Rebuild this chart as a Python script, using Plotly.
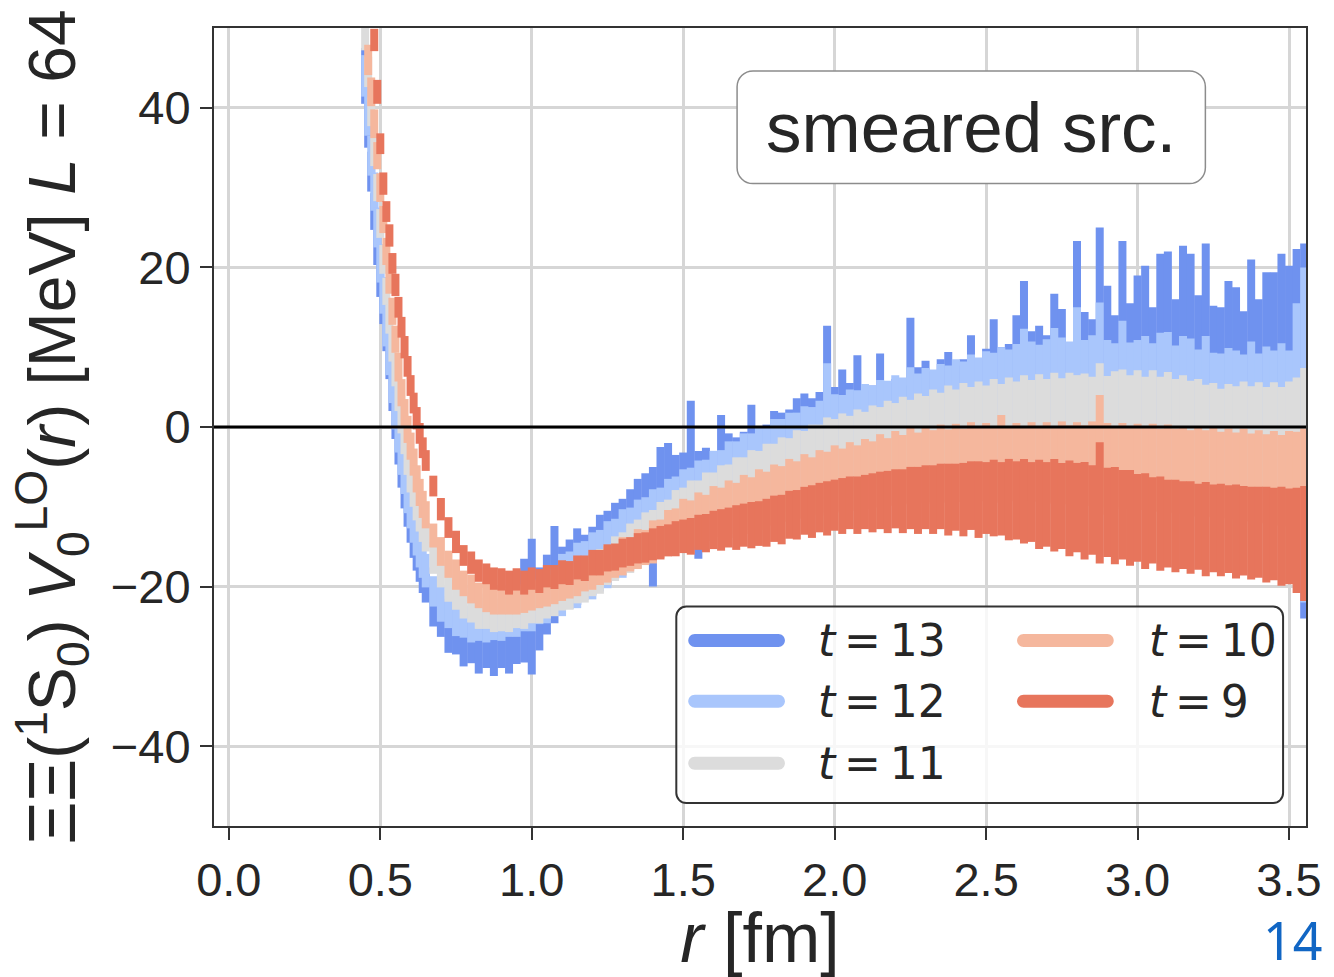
import plotly.graph_objects as go

# ---------------------------------------------------------------- data
# separation r [fm]: fine steps near the repulsive core, then 0.025 fm
R_CORE = [0.45, 0.46, 0.47, 0.48, 0.49, 0.50, 0.51, 0.52, 0.53, 0.54,
          0.55, 0.56, 0.57, 0.58, 0.59, 0.60, 0.61, 0.62, 0.63, 0.64]
R_TAIL = [0.650, 0.675, 0.700, 0.725, 0.750, 0.775, 0.800, 0.825, 0.850, 0.875,
          0.900, 0.925, 0.950, 0.975, 1.000, 1.025, 1.050, 1.075, 1.100, 1.125,
          1.150, 1.175, 1.200, 1.225, 1.250, 1.275, 1.300, 1.325, 1.350, 1.375,
          1.400, 1.425, 1.450, 1.475, 1.500, 1.525, 1.550, 1.575, 1.600, 1.625,
          1.650, 1.675, 1.700, 1.725, 1.750, 1.775, 1.800, 1.825, 1.850, 1.875,
          1.900, 1.925, 1.950, 1.975, 2.000, 2.025, 2.050, 2.075, 2.100, 2.125,
          2.150, 2.175, 2.200, 2.225, 2.250, 2.275, 2.300, 2.325, 2.350, 2.375,
          2.400, 2.425, 2.450, 2.475, 2.500, 2.525, 2.550, 2.575, 2.600, 2.625,
          2.650, 2.675, 2.700, 2.725, 2.750, 2.775, 2.800, 2.825, 2.850, 2.875,
          2.900, 2.925, 2.950, 2.975, 3.000, 3.025, 3.050, 3.075, 3.100, 3.125,
          3.150, 3.175, 3.200, 3.225, 3.250, 3.275, 3.300, 3.325, 3.350, 3.375,
          3.400, 3.425, 3.450, 3.475, 3.500, 3.525, 3.550]
R = R_CORE + R_TAIL

# potential V(r) [MeV] and its statistical error, one pair per sink time t
V_T9 = [70.0, 62.0, 55.0, 48.5, 42.0, 35.5, 30.5, 27.0, 24.0, 20.5,
        17.8, 15.0, 12.5, 10.0, 7.6, 5.2, 3.0, 1.1, -0.8, -2.6,
        -4.2, -7.4, -10.3, -12.6, -14.4, -16.1, -17.0, -18.0, -18.4, -19.0,
        -19.1, -19.5, -19.1, -19.5, -19.0, -19.3, -18.7, -18.8, -18.2, -18.3,
        -17.6, -17.7, -17.0, -17.0, -16.4, -16.3, -15.8, -15.6, -15.2, -15.1,
        -14.7, -14.5, -14.2, -14.0, -13.7, -13.7, -13.2, -13.3, -12.9, -12.9,
        -12.6, -12.6, -12.3, -12.3, -12.1, -12.0, -11.5, -11.6, -11.0, -11.0,
        -10.5, -10.6, -10.1, -10.2, -9.8, -9.9, -9.5, -9.8, -9.4, -9.5,
        -9.2, -9.4, -9.0, -9.3, -8.9, -9.2, -8.8, -9.1, -8.7, -9.1,
        -8.8, -9.1, -8.6, -9.1, -8.9, -8.9, -9.0, -9.1, -9.2, -9.3,
        -9.4, -9.7, -9.7, -9.8, -9.9, -10.2, -10.1, -10.5, -10.4, -9.5,
        -10.7, -11.1, -11.0, -11.4, -11.4, -11.8, -11.7, -12.1, -12.1, -12.4,
        -12.3, -12.6, -12.5, -12.8, -12.7, -12.9, -12.8, -13.1, -13.0, -13.3,
        -13.2, -13.5, -13.4, -13.7, -13.7, -14.2, -14.6]
E_T9 = [1.5, 1.5, 1.4, 1.4, 1.5, 1.3, 1.4, 1.3, 1.4, 1.3,
        1.4, 1.3, 1.3, 1.4, 1.3, 1.3, 1.3, 1.4, 1.3, 1.3,
        1.3, 1.3, 1.4, 1.3, 1.4, 1.3, 1.4, 1.4, 1.3, 1.4,
        1.4, 1.5, 1.4, 1.5, 1.4, 1.5, 1.4, 1.5, 1.5, 1.5,
        1.5, 1.6, 1.6, 1.6, 1.7, 1.7, 1.8, 1.8, 1.9, 1.9,
        2.0, 2.1, 2.0, 2.2, 2.1, 2.3, 2.2, 2.4, 2.4, 2.6,
        2.5, 2.8, 2.7, 2.9, 2.8, 3.0, 2.9, 3.1, 3.0, 3.1,
        3.0, 3.3, 3.1, 3.4, 3.2, 3.5, 3.3, 3.6, 3.4, 3.7,
        3.6, 3.9, 3.7, 4.0, 3.9, 4.2, 4.0, 4.3, 4.1, 4.5,
        4.2, 4.6, 4.3, 4.8, 4.5, 4.8, 4.6, 5.1, 4.9, 5.3,
        5.0, 5.6, 5.3, 5.8, 5.4, 6.0, 5.6, 6.1, 5.6, 7.6,
        5.6, 6.1, 5.6, 6.0, 5.5, 6.0, 5.4, 5.9, 5.5, 5.8,
        5.5, 5.8, 5.4, 5.9, 5.5, 5.8, 5.5, 5.9, 5.6, 5.8,
        5.7, 6.0, 5.8, 6.2, 6.0, 6.6, 7.2]

V_T10 = [52.0, 46.0, 42.0, 38.0, 34.0, 30.0, 26.0, 22.0, 18.5, 14.5,
         11.0, 7.5, 4.3, 1.8, -0.3, -2.4, -4.4, -6.5, -8.2, -9.7,
         -11.0, -13.6, -15.6, -17.2, -18.5, -19.6, -20.3, -21.1, -21.3, -21.8,
         -21.7, -21.9, -21.6, -21.6, -21.1, -21.0, -20.5, -20.4, -19.8, -19.7,
         -19.1, -18.8, -18.2, -17.9, -17.2, -16.9, -16.2, -16.0, -15.3, -15.1,
         -14.4, -14.0, -13.3, -12.9, -12.2, -12.1, -11.5, -11.4, -10.8, -10.7,
         -10.3, -10.2, -9.7, -9.6, -9.1, -9.0, -8.5, -8.4, -7.9, -7.9,
         -7.4, -7.4, -7.0, -6.9, -6.5, -6.6, -6.2, -6.3, -5.9, -5.9,
         -5.5, -5.6, -5.2, -5.3, -4.9, -5.1, -4.8, -4.9, -4.6, -4.8,
         -4.5, -4.7, -4.4, -4.6, -4.4, -4.6, -4.0, -4.6, -4.4, -4.6,
         -4.4, -4.7, -4.5, -4.7, -4.5, -4.7, -4.6, -4.8, -4.6, -3.5,
         -4.8, -5.0, -4.9, -5.1, -5.0, -5.2, -5.1, -5.4, -5.2, -5.5,
         -5.4, -5.7, -5.6, -5.8, -5.7, -6.0, -5.9, -6.1, -6.0, -6.3,
         -6.2, -6.5, -6.4, -6.7, -6.5, -6.8, -7.0]
E_T10 = [2.0, 1.9, 1.8, 1.8, 1.7, 1.8, 1.7, 1.7, 1.8, 1.7,
         1.7, 1.8, 1.7, 1.7, 1.7, 1.7, 1.7, 1.7, 1.7, 1.7,
         1.7, 1.5, 1.8, 1.7, 1.9, 1.6, 1.8, 1.6, 1.9, 1.7,
         1.8, 1.6, 1.9, 1.7, 1.9, 1.7, 2.0, 1.8, 2.0, 1.8,
         2.1, 1.8, 2.2, 1.9, 2.3, 2.0, 2.4, 2.1, 2.5, 2.2,
         2.7, 2.4, 2.9, 2.7, 3.2, 2.9, 3.3, 2.9, 3.4, 3.1,
         3.6, 3.2, 3.7, 3.3, 3.8, 3.4, 3.8, 3.5, 3.9, 3.6,
         4.0, 3.6, 4.1, 3.8, 4.2, 3.9, 4.3, 4.0, 4.4, 4.1,
         4.6, 4.2, 4.7, 4.3, 4.8, 4.4, 4.8, 4.5, 4.9, 4.5,
         4.9, 4.5, 5.0, 4.6, 4.9, 4.6, 5.5, 4.6, 4.9, 4.7,
         5.0, 4.6, 5.1, 4.8, 5.2, 4.9, 5.2, 5.0, 5.3, 7.5,
         5.3, 5.0, 5.4, 5.1, 5.4, 5.2, 5.5, 5.2, 5.5, 5.3,
         5.5, 5.3, 5.6, 5.4, 5.6, 5.4, 5.7, 5.4, 5.8, 5.5,
         5.8, 5.6, 5.9, 5.7, 6.0, 6.2, 6.8]

V_T11 = [49.0, 44.5, 39.5, 34.5, 30.0, 25.5, 21.0, 17.0, 13.5, 10.0,
         6.8, 3.8, 1.0, -1.7, -4.2, -6.4, -8.3, -9.9, -11.3, -12.6,
         -13.8, -16.4, -18.4, -19.9, -21.0, -21.9, -22.6, -23.1, -23.4, -23.6,
         -23.6, -23.5, -23.3, -23.0, -22.6, -22.2, -21.8, -21.3, -20.8, -20.3,
         -19.8, -19.3, -18.8, -18.1, -17.3, -16.5, -15.8, -15.2, -14.4, -13.9,
         -13.3, -12.8, -12.2, -11.6, -11.0, -10.6, -10.2, -9.8, -9.4, -9.0,
         -8.6, -8.2, -7.8, -7.4, -7.0, -6.7, -6.3, -6.0, -5.6, -5.2,
         -4.8, -4.5, -4.1, -3.8, -3.5, -3.3, -3.1, -2.9, -2.7, -2.5,
         -2.3, -2.2, -2.0, -1.9, -1.8, -1.7, -1.6, -1.5, -1.4, -1.3,
         -1.2, -1.2, -1.1, -1.1, -1.0, -1.0, -1.0, -1.0, -0.9, -0.9,
         -0.9, -0.9, -0.9, -0.9, -0.9, -0.9, -0.9, -0.9, -1.0, -1.0,
         -1.0, -1.0, -1.0, -1.0, -1.0, -1.1, -1.1, -1.1, -1.1, -1.2,
         -1.2, -1.2, -1.3, -1.3, -1.4, -1.4, -1.5, -1.5, -1.6, -1.6,
         -1.7, -1.8, -1.9, -2.0, -2.0, -2.3, -2.6]
E_T11 = [1.8, 1.9, 1.8, 1.8, 1.7, 1.8, 1.8, 1.7, 1.8, 1.8,
         1.7, 1.8, 1.8, 1.7, 1.8, 1.8, 1.7, 1.8, 1.8, 1.8,
         1.8, 2.0, 1.7, 2.0, 1.9, 2.1, 1.9, 2.2, 1.9, 2.1,
         2.0, 2.2, 1.9, 2.3, 2.0, 2.4, 2.2, 2.4, 2.2, 2.6,
         2.3, 2.7, 2.4, 2.8, 2.5, 2.8, 2.6, 3.1, 2.8, 3.2,
         2.9, 3.4, 3.1, 3.7, 3.4, 3.9, 3.5, 4.1, 3.7, 4.2,
         3.9, 4.4, 4.0, 4.5, 4.0, 4.6, 4.2, 4.7, 4.2, 4.8,
         4.3, 4.8, 4.4, 5.0, 4.5, 5.0, 4.5, 5.1, 4.6, 5.2,
         4.8, 5.5, 5.0, 5.7, 5.2, 5.9, 5.5, 6.2, 5.7, 6.5,
         5.9, 6.7, 6.1, 6.8, 6.2, 7.0, 6.4, 7.2, 6.6, 7.4,
         6.8, 7.5, 6.9, 7.7, 7.0, 7.7, 7.4, 7.6, 7.3, 9.0,
         7.4, 8.0, 8.2, 7.5, 8.1, 7.4, 8.2, 7.4, 8.0, 7.2,
         7.7, 7.0, 7.3, 6.6, 6.9, 6.2, 6.9, 6.6, 7.3, 6.7,
         7.3, 6.8, 7.5, 7.0, 7.7, 8.5, 10.0]

V_T12 = [44.0, 39.0, 34.0, 29.5, 25.0, 20.5, 16.5, 12.5, 8.8, 5.2,
         2.0, -1.0, -3.8, -6.3, -8.6, -10.6, -12.4, -14.0, -15.5, -16.8,
         -18.0, -20.6, -22.2, -23.2, -23.9, -24.4, -24.7, -24.8, -24.8, -24.7,
         -24.5, -24.2, -23.7, -23.2, -22.6, -21.9, -21.2, -20.6, -19.8, -19.2,
         -18.6, -18.0, -17.4, -16.7, -16.0, -15.3, -14.6, -14.0, -13.4, -12.8,
         -12.2, -11.6, -11.0, -10.4, -9.9, -9.4, -9.0, -8.5, -8.0, -7.5,
         -7.0, -6.6, -6.1, -5.7, -5.3, -4.9, -4.5, -4.1, -3.8, -3.4,
         -3.1, -2.8, -2.5, -0.5, -1.9, -1.7, -1.5, -1.3, -1.1, -0.9,
         -0.8, -0.6, -0.5, -0.4, 0.0, -0.2, -0.1, 0.0, 0.1, 0.2,
         0.3, 0.4, 0.5, 0.5, 0.6, 0.7, 0.8, 0.8, 0.9, 1.5,
         1.0, 1.0, 1.1, 1.6, 1.1, 1.2, 2.5, 1.2, 1.2, 2.8,
         1.3, 1.3, 2.3, 1.3, 1.3, 1.4, 1.3, 1.5, 1.5, 1.2,
         1.4, 1.3, 1.1, 1.4, 1.0, 1.0, 1.1, 1.0, 0.9, 1.2,
         0.8, 0.9, 0.8, 0.9, 0.6, -0.5, -1.0]
E_T12 = [2.6, 2.5, 2.5, 2.4, 2.5, 2.4, 2.3, 2.4, 2.3, 2.2,
         2.3, 2.2, 2.2, 2.1, 2.2, 2.1, 2.1, 2.1, 2.1, 2.1,
         2.1, 1.9, 2.2, 2.0, 2.3, 2.0, 2.3, 2.0, 2.2, 2.0,
         2.3, 2.1, 2.6, 2.4, 3.0, 2.8, 3.4, 3.1, 3.9, 3.6,
         4.1, 3.7, 4.2, 3.8, 4.2, 3.8, 4.3, 3.9, 4.3, 4.0,
         4.4, 4.0, 4.5, 4.2, 4.6, 4.3, 4.8, 4.4, 5.0, 4.6,
         5.2, 4.8, 5.3, 4.9, 5.4, 5.0, 5.5, 5.1, 5.6, 5.2,
         5.7, 5.3, 5.8, 8.5, 6.0, 5.7, 6.2, 5.9, 6.5, 6.1,
         6.7, 6.4, 7.0, 6.6, 7.5, 6.9, 7.5, 7.2, 7.8, 7.5,
         8.2, 7.8, 8.6, 8.2, 8.9, 8.6, 9.2, 8.9, 9.5, 10.8,
         9.7, 9.3, 9.9, 10.8, 10.1, 9.5, 12.5, 9.7, 10.3, 12.8,
         9.6, 9.2, 11.0, 9.3, 9.6, 10.0, 9.2, 10.3, 10.4, 9.0,
         10.0, 9.8, 8.6, 10.0, 8.3, 8.2, 8.8, 8.6, 8.2, 9.5,
         8.4, 9.2, 8.8, 9.6, 9.0, 16.0, 21.0]

V_T13 = [44.0, 38.0, 32.0, 27.0, 22.5, 18.5, 15.0, 11.5, 8.0, 4.0,
         0.5, -2.7, -5.6, -8.2, -10.5, -12.5, -14.3, -15.9, -17.3, -18.6,
         -19.8, -22.4, -23.9, -25.2, -25.7, -26.5, -26.5, -27.0, -26.7, -26.9,
         -26.4, -26.4, -25.6, -23.0, -22.5, -22.8, -21.0, -18.5, -19.0, -18.4,
         -17.5, -17.5, -16.75, -15.8, -15.15, -14.25, -13.25, -12.4, -11.5, -10.9,
         -12.5, -8.75, -8.25, -8.75, -8.35, -4.6, -9.75, -7.3, -7.25, -4.75,
         -5.65, -5.65, -5.3, -3.35, -4.75, -4.35, -3.5, -3.35, -3.15, -2.2,
         -1.9, -1.95, -1.55, 2.85, -1.0, 0.1, -0.5, 1.25, -0.95, -0.4,
         1.6, -0.25, 0.0, -0.15, 4.1, 1.0, 1.4, 0.75, 1.75, 2.2,
         1.35, 1.75, 3.25, 1.6, 2.4, 4.25, 2.5, 2.7, 4.5, 6.65,
         3.5, 3.85, 3.25, 5.85, 4.9, 2.6, 9.15, 4.7, 4.25, 10.0,
         6.35, 4.5, 9.15, 5.25, 7.0, 7.6, 5.0, 8.35, 8.5, 5.5,
         8.85, 8.35, 5.75, 9.0, 5.1, 5.0, 6.65, 6.25, 4.75, 8.0,
         5.5, 7.2, 7.2, 8.35, 7.6, 5.15, -0.5]
E_T13 = [3.5, 3.0, 2.5, 2.3, 2.2, 2.2, 2.1, 2.0, 2.0, 2.0,
         2.0, 2.0, 2.0, 2.0, 2.0, 2.0, 2.1, 2.1, 2.1, 2.2,
         2.2, 2.6, 2.4, 3.1, 2.8, 3.5, 3.1, 3.9, 3.5, 4.3,
         3.8, 4.5, 4.1, 6.5, 8.5, 5.2, 5.0, 6.1, 4.0, 4.3,
         4.8, 4.0, 4.25, 4.8, 4.65, 4.75, 4.25, 4.6, 5.0, 5.1,
         7.5, 6.25, 6.25, 5.25, 5.15, 7.9, 6.75, 4.7, 4.25, 6.25,
         4.85, 4.35, 4.7, 6.15, 4.75, 4.65, 5.5, 5.15, 5.35, 5.8,
         6.1, 5.55, 5.95, 9.85, 6.0, 7.1, 6.0, 7.75, 5.55, 5.6,
         7.6, 5.75, 6.0, 5.35, 9.6, 6.5, 6.9, 6.25, 6.75, 7.2,
         6.35, 6.75, 8.25, 6.6, 7.4, 9.25, 7.5, 7.7, 9.5, 11.65,
         8.5, 8.85, 8.25, 10.85, 9.9, 7.6, 14.15, 9.7, 9.25, 15.0,
         11.35, 9.5, 14.15, 10.25, 12.0, 12.6, 10.0, 13.35, 13.5, 10.5,
         13.85, 13.35, 10.75, 14.0, 10.1, 10.0, 11.65, 11.25, 9.75, 13.0,
         10.5, 12.2, 12.2, 13.35, 12.6, 17.15, 23.5]

LABELS = ["t = 13", "t = 12", "t = 11", "t = 10", "t = 9"]
COLORS = ["#6f92ef", "#a9c6fc", "#dcdcdc", "#f5b79d", "#e7755c"]
SERIES = [(V_T13, E_T13), (V_T12, E_T12), (V_T11, E_T11),
          (V_T10, E_T10), (V_T9, E_T9)]

X_TICKS = [0.0, 0.5, 1.0, 1.5, 2.0, 2.5, 3.0, 3.5]
Y_TICKS = [-40, -20, 0, 20, 40]
Y_TICKTEXT = ["\u221240", "\u221220", "0", "20", "40"]

# ---------------------------------------------------------------- layout helpers
W, H = 1334, 977
L, T, RR, B = 214, 28, 1310, 828          # plot-area edges in pixels


def px(x):
    return (x - L) / (RR - L)


def py(y):
    return (B - y) / (B - T)


def rounded_rect(x0, y0, x1, y1, rad):
    """SVG path (paper coords) of a rectangle with rounded corners; pixel input."""
    k = 0.5523
    rx = rad / (RR - L)
    ry = rad / (B - T)
    X0, X1, Y0, Y1 = px(x0), px(x1), py(y1), py(y0)   # Y0 bottom, Y1 top
    p = [f"M{X0 + rx},{Y1}", f"L{X1 - rx},{Y1}",
         f"C{X1 - rx + k * rx},{Y1} {X1},{Y1 - ry + k * ry} {X1},{Y1 - ry}",
         f"L{X1},{Y0 + ry}",
         f"C{X1},{Y0 + ry - k * ry} {X1 - rx + k * rx},{Y0} {X1 - rx},{Y0}",
         f"L{X0 + rx},{Y0}",
         f"C{X0 + rx - k * rx},{Y0} {X0},{Y0 + ry - k * ry} {X0},{Y0 + ry}",
         f"L{X0},{Y1 - ry}",
         f"C{X0},{Y1 - ry + k * ry} {X0 + rx - k * rx},{Y1} {X0 + rx},{Y1}", "Z"]
    return " ".join(p)


# ---------------------------------------------------------------- figure
fig = go.Figure()

for (vals, errs), name, col in zip(SERIES, LABELS, COLORS):
    fig.add_trace(go.Scatter(
        x=R, y=vals, mode="markers", name=name, showlegend=False,
        marker=dict(size=1, color=col, opacity=0),
        error_y=dict(type="data", array=errs, visible=True,
                     color=col, thickness=8, width=0),
    ))

TEXT = "#262626"
tick_font = dict(family="Liberation Sans, Arial, sans-serif", size=47, color=TEXT)
ytitle_font = dict(family="Liberation Sans, Arial, sans-serif", size=66, color=TEXT)
xtitle_font = dict(family="Liberation Sans, Arial, sans-serif", size=70, color=TEXT)

fig.update_layout(
    width=W, height=H, autosize=False,
    margin=dict(l=L, r=W - RR, t=T, b=H - B, pad=0),
    paper_bgcolor="white", plot_bgcolor="white",
    showlegend=False,
    xaxis=dict(range=[-0.049, 3.556], tickvals=X_TICKS, tickformat=".1f",
               ticks="outside", ticklen=12, tickwidth=2, tickcolor="#333333",
               showgrid=True, gridcolor="#d6d6d6", gridwidth=2.5,
               zeroline=False, showline=True, mirror=True,
               linecolor="#333333", linewidth=2,
               tickfont=tick_font,
               title=dict(text="<i>r</i> [fm]", font=xtitle_font, standoff=10)),
    yaxis=dict(range=[-50, 50], tickvals=Y_TICKS, ticktext=Y_TICKTEXT,
               ticks="outside", ticklen=12, tickwidth=2, tickcolor="#333333",
               showgrid=True, gridcolor="#d6d6d6", gridwidth=2.5,
               zeroline=False, showline=True, mirror=True,
               linecolor="#333333", linewidth=2,
               tickfont=tick_font,
               title=dict(text="\u039e\u039e(<sup>1</sup>S<sub>0</sub>) "
                               "<i>V</i><sub>0</sub><sup>LO</sup>(<i>r</i>) "
                               "[MeV] <i>L</i> = 64",
                          font=ytitle_font, standoff=14)),
)

shapes = []
# V = 0 reference line on top of the bands
shapes.append(dict(type="line", xref="paper", yref="y", x0=0, x1=1, y0=0, y1=0,
                   line=dict(color="black", width=3), layer="above"))

# label box
shapes.append(dict(type="path", xref="paper", yref="paper",
                   path=rounded_rect(739, 71, 1209, 184, 16),
                   fillcolor="white", line=dict(color="#8c8c8c", width=1.5),
                   layer="above"))

# legend frame
shapes.append(dict(type="path", xref="paper", yref="paper",
                   path=rounded_rect(678, 608, 1287, 805, 10),
                   fillcolor="rgba(255,255,255,0.8)",
                   line=dict(color="#333333", width=2), layer="above"))

annotations = [
    dict(text="smeared src.", xref="paper", yref="paper",
         x=px(974), y=py(128), xanchor="center", yanchor="middle",
         showarrow=False,
         font=dict(family="Liberation Sans, Arial, sans-serif", size=71, color=TEXT)),
    dict(text="14", xref="paper", yref="paper",
         x=px(1297), y=py(942), xanchor="center", yanchor="middle",
         showarrow=False,
         font=dict(family="Noto Sans, sans-serif", size=52, color="#1166c4")),
]

# legend entries: two columns, thick rounded handles
slots = [(690, 787, 818, 642), (690, 787, 818, 703), (690, 787, 818, 765),
         (1020, 1117, 1150, 642), (1020, 1117, 1150, 703)]
for (hx0, hx1, tx, yc), name, col in zip(slots, LABELS, COLORS):
    shapes.append(dict(type="path", xref="paper", yref="paper",
                       path=rounded_rect(hx0, yc - 6.5, hx1, yc + 6.5, 6.5),
                       fillcolor=col, line=dict(width=0), layer="above"))
    t_txt = "<i>t</i>\u2009=\u2009" + name.split("= ")[1]
    annotations.append(dict(text=t_txt, xref="paper", yref="paper",
                            x=px(tx), y=py(yc), xanchor="left", yanchor="middle",
                            showarrow=False,
                            font=dict(family="DejaVu Sans, sans-serif", size=44,
                                      color=TEXT)))

fig.update_layout(shapes=shapes, annotations=annotations)

fig.write_html("out.html")
